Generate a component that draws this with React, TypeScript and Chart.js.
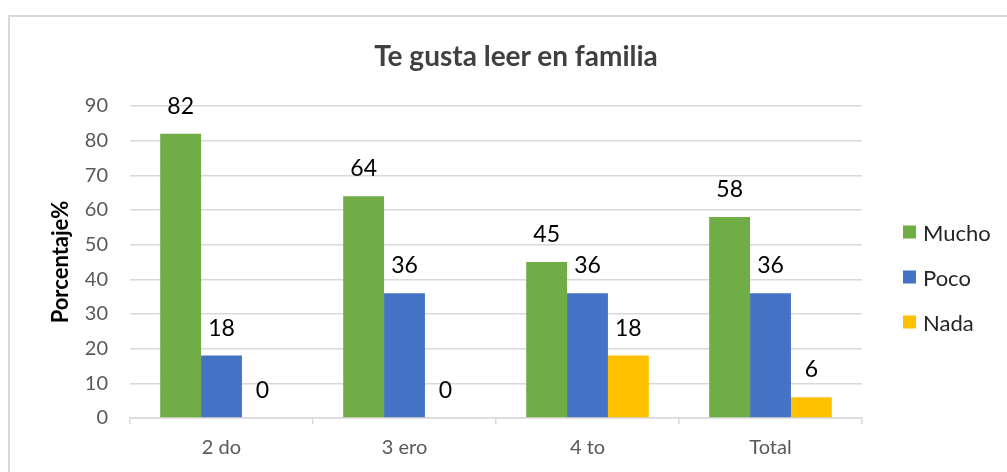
import React, { useEffect, useRef } from "react";
import { Chart, registerables } from "chart.js";

Chart.register(...registerables);

const categories = ["2 do", "3 ero", "4 to", "Total"];
const mucho = [82, 64, 45, 58];
const poco = [18, 36, 36, 36];
const nada = [0, 0, 18, 6];
const seriesNames = ["Mucho", "Poco", "Nada"];
const seriesColors = ["#70ad47", "#4472c4", "#ffc000"];
const yTicks = [0, 10, 20, 30, 40, 50, 60, 70, 80, 90];
const chartTitle = "Te gusta leer en familia";
const yTitle = "Porcentaje%";

const FONT = "Lato, 'Open Sans', sans-serif";

const dataLabels = {
  id: "dataLabels",
  afterDatasetsDraw(chart: any) {
    const ctx = chart.ctx;
    ctx.save();
    ctx.font = `23px ${FONT}`;
    ctx.fillStyle = "#000000";
    ctx.textAlign = "center";
    ctx.textBaseline = "alphabetic";
    chart.data.datasets.forEach((ds: any, i: number) => {
      const meta = chart.getDatasetMeta(i);
      meta.data.forEach((bar: any, j: number) => {
        ctx.fillText(String(ds.data[j]), bar.x, bar.y - 20);
      });
    });
    ctx.restore();
  },
};

export default function App() {
  const canvasRef = useRef<HTMLCanvasElement | null>(null);

  useEffect(() => {
    const seriesData = [mucho, poco, nada];
    const chart = new Chart(canvasRef.current as HTMLCanvasElement, {
      type: "bar",
      data: {
        labels: categories,
        datasets: seriesNames.map((name, i) => ({
          label: name,
          data: seriesData[i],
          backgroundColor: seriesColors[i],
          categoryPercentage: 0.67,
          barPercentage: 1,
        })),
      },
      options: {
        animation: false,
        responsive: false,
        maintainAspectRatio: false,
        layout: { padding: { left: 0, right: 145, top: 106, bottom: 0 } },
        plugins: {
          legend: { display: false },
          title: { display: false },
          tooltip: { enabled: false },
        },
        scales: {
          x: {
            offset: true,
            grid: {
              display: true,
              drawOnChartArea: false,
              drawTicks: true,
              tickLength: 6,
              color: "#d9d9d9",
              lineWidth: 1.5,
            },
            border: { display: true, color: "#d9d9d9", width: 1.5 },
            ticks: {
              color: "#595959",
              font: { family: FONT, size: 20 },
              padding: 12,
            },
            afterFit(scale: any) {
              scale.height = 54;
            },
          },
          y: {
            min: 0,
            max: 90,
            afterBuildTicks(scale: any) {
              scale.ticks = yTicks.map((v) => ({ value: v }));
            },
            grid: { color: "#d9d9d9", lineWidth: 1.5, drawTicks: false },
            border: { display: false },
            ticks: {
              color: "#595959",
              font: { family: FONT, size: 20 },
              padding: 22,
            },
            title: {
              display: true,
              text: yTitle,
              color: "#000000",
              font: { family: FONT, size: 22, weight: "bold" },
              padding: { top: 48, bottom: 0 },
            },
            afterFit(scale: any) {
              scale.width = 130;
            },
          },
        },
      },
      plugins: [dataLabels],
    });
    return () => chart.destroy();
  }, []);

  return (
    <div
      style={{
        position: "fixed",
        left: 0,
        top: 0,
        width: 1007,
        height: 472,
        background: "#ffffff",
        overflow: "hidden",
        fontFamily: FONT,
      }}
    >
      <div
        style={{
          position: "absolute",
          left: 8,
          top: 15,
          width: 1010,
          height: 470,
          borderTop: "2px solid #d9d9d9",
          borderLeft: "2px solid #d9d9d9",
          boxSizing: "border-box",
        }}
      />
      <canvas
        ref={canvasRef}
        width={1007}
        height={472}
        style={{ position: "absolute", left: 0, top: 0, width: 1007, height: 472 }}
      />
      <div
        style={{
          position: "absolute",
          left: 516,
          top: 55,
          transform: "translate(-50%, -50%)",
          fontSize: 28,
          fontWeight: "bold",
          color: "#404040",
          whiteSpace: "nowrap",
        }}
      >
        {chartTitle}
      </div>
      {seriesNames.map((name, i) => (
        <div
          key={name}
          style={{
            position: "absolute",
            left: 903,
            top: 232 + i * 45,
            transform: "translateY(-50%)",
            display: "flex",
            alignItems: "center",
            fontSize: 22,
            color: "#262626",
            whiteSpace: "nowrap",
          }}
        >
          <span
            style={{
              display: "inline-block",
              width: 13,
              height: 13,
              background: seriesColors[i],
              marginRight: 7,
            }}
          />
          {name}
        </div>
      ))}
    </div>
  );
}
